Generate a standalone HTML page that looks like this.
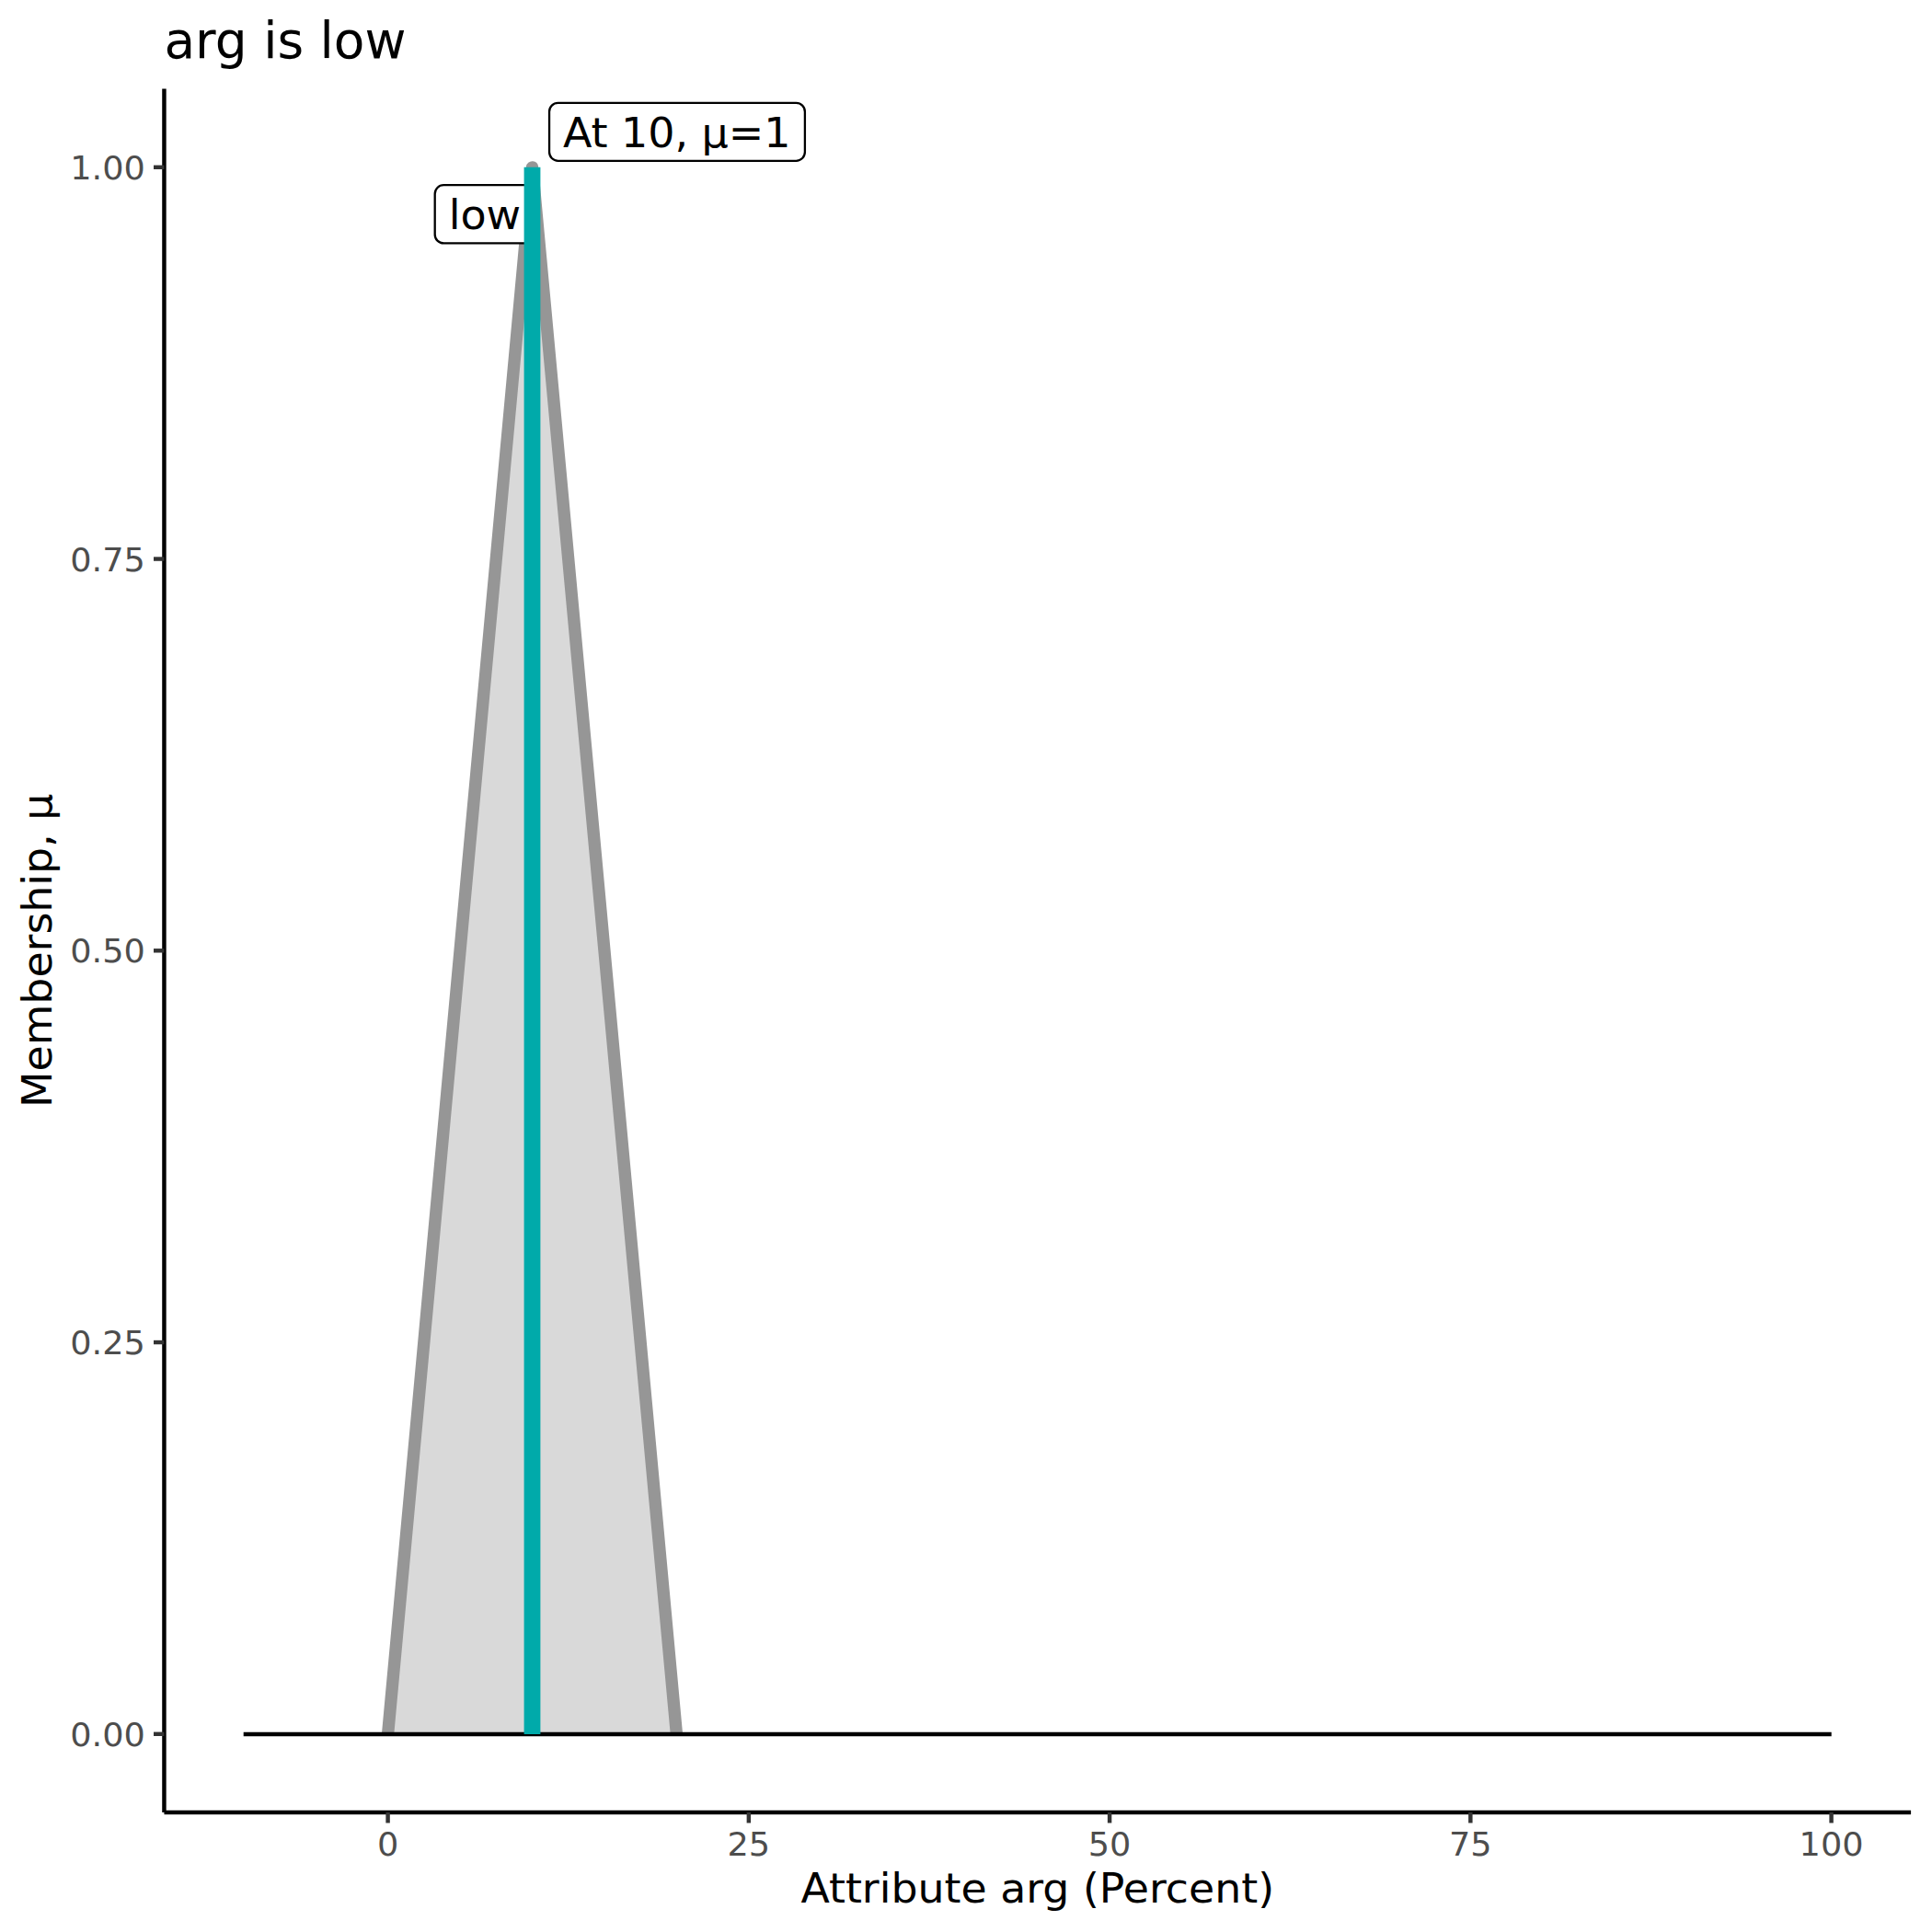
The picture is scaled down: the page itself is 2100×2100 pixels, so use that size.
<!DOCTYPE html>
<html><head><meta charset="utf-8"><title>arg is low</title>
<style>
html,body{margin:0;padding:0;background:#fff;}
body{width:2100px;height:2100px;overflow:hidden;}
svg{display:block;}
text{font-family:"DejaVu Sans","Liberation Sans",sans-serif;}
</style></head><body>
<svg width="2100" height="2100" viewBox="0 0 2100 2100">
<rect width="2100" height="2100" fill="#fff"/>
<!-- title -->
<text x="178.4" y="63.3" font-size="55" fill="#000">arg is low</text>
<!-- area + outline -->
<polygon points="421.6,1884.8 578.5,181.8 735.4,1884.8" fill="#D9D9D9"/>
<polyline points="421.6,1884.8 578.5,181.8 735.4,1884.8" fill="none" stroke="#969696" stroke-width="13.34" stroke-linejoin="round" stroke-linecap="butt"/>
<!-- zero line -->
<line x1="264.7" y1="1885" x2="1990.7" y2="1885" stroke="#000" stroke-width="4.45"/>
<!-- low label -->
<rect x="472.7" y="201.2" width="108.6" height="63.2" rx="9.5" ry="9.5" fill="#fff" stroke="#000" stroke-width="2.3"/>
<text transform="translate(487.7,249) scale(1,0.985)" font-size="46" fill="#000">low</text>
<!-- teal segment -->
<line x1="578.5" y1="1885" x2="578.5" y2="181.8" stroke="#00AAAA" stroke-width="17.8"/>
<!-- At label -->
<rect x="597.05" y="111.9" width="277.85" height="62.9" rx="9.5" ry="9.5" fill="#fff" stroke="#000" stroke-width="2.3"/>
<text transform="translate(612.05,160) scale(1,0.985)" font-size="46" fill="#000" textLength="247.4" lengthAdjust="spacing">At 10, μ=1</text>
<!-- axes -->
<line x1="178.45" y1="96.6" x2="178.45" y2="1970" stroke="#000" stroke-width="4.45"/>
<line x1="178.45" y1="1970" x2="2077.1" y2="1970" stroke="#000" stroke-width="4.45"/>
<!-- y ticks -->
<g stroke="#333333" stroke-width="4.45">
<line x1="167" y1="181.8" x2="178.45" y2="181.8"/>
<line x1="167" y1="607.55" x2="178.45" y2="607.55"/>
<line x1="167" y1="1033.3" x2="178.45" y2="1033.3"/>
<line x1="167" y1="1459.05" x2="178.45" y2="1459.05"/>
<line x1="167" y1="1884.8" x2="178.45" y2="1884.8"/>
<line x1="421.6" y1="1970" x2="421.6" y2="1981.5"/>
<line x1="813.85" y1="1970" x2="813.85" y2="1981.5"/>
<line x1="1206.1" y1="1970" x2="1206.1" y2="1981.5"/>
<line x1="1598.35" y1="1970" x2="1598.35" y2="1981.5"/>
<line x1="1990.6" y1="1970" x2="1990.6" y2="1981.5"/>
</g>
<g font-size="36.67" fill="#4D4D4D" text-anchor="end">
<text transform="translate(157.9,194.9) scale(1,0.975)">1.00</text>
<text transform="translate(157.9,620.65) scale(1,0.975)">0.75</text>
<text transform="translate(157.9,1046.4) scale(1,0.975)">0.50</text>
<text transform="translate(157.9,1472.15) scale(1,0.975)">0.25</text>
<text transform="translate(157.9,1897.9) scale(1,0.975)">0.00</text>
</g>
<g font-size="36.67" fill="#4D4D4D" text-anchor="middle">
<text transform="translate(421.6,2016.6) scale(1,0.975)">0</text>
<text transform="translate(813.85,2016.6) scale(1,0.975)">25</text>
<text transform="translate(1206.1,2016.6) scale(1,0.975)">50</text>
<text transform="translate(1598.35,2016.6) scale(1,0.975)">75</text>
<text transform="translate(1990.6,2016.6) scale(1,0.975)">100</text>
</g>
<text transform="translate(1127.75,2068) scale(1,0.985)" font-size="45.83" fill="#000" text-anchor="middle">Attribute arg (Percent)</text>
<text transform="translate(56,1033.3) rotate(-90) scale(1,0.985)" font-size="45.83" fill="#000" text-anchor="middle">Membership, μ</text>
</svg>
</body></html>
